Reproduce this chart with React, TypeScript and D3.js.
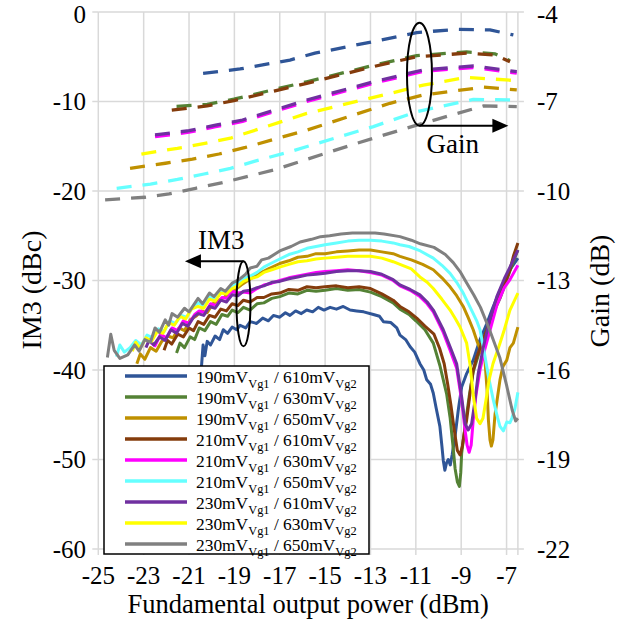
import React from 'react'
import * as d3 from 'd3'

// axis ticks
const xTicks = [-25, -23, -21, -19, -17, -15, -13, -11, -9, -7]
const im3Ticks = [0, -10, -20, -30, -40, -50, -60]
const gainTicks = [-4, -7, -10, -13, -16, -19, -22]

// bias points, in legend order
const vg1 = ['190', '190', '190', '210', '210', '210', '230', '230', '230']
const vg2 = ['610', '630', '650', '610', '630', '650', '610', '630', '650']
const colors = ['#2F5597', '#548235', '#BF9000', '#843C0C', '#FF00FF', '#66FFFF', '#7030A0', '#FFFF00', '#808080']

type Pt = [number, number]

// IM3 (dBc) vs Pout (dBm)
const im3_190_610: Pt[] = [[-20.45, -39.6], [-20.38, -37.2], [-20.3, -38.4], [-20.2, -36.8], [-20.05, -37.2], [-19.85, -36.2], [-19.65, -36.6], [-19.49, -35.5], [-19.3, -35.9], [-19.1, -35.2], [-18.9, -35.5], [-18.75, -35.0], [-18.5, -35.3], [-18.3, -34.6], [-18.02, -34.8], [-17.75, -34.2], [-17.5, -34.5], [-17.28, -33.9], [-17.0, -34.1], [-16.75, -33.6], [-16.55, -33.9], [-16.3, -33.4], [-16.05, -33.7], [-15.81, -33.3], [-15.55, -33.5], [-15.3, -33.0], [-15.05, -33.3], [-14.78, -33.0], [-14.5, -33.2], [-14.2, -32.9], [-13.9, -33.3], [-13.61, -33.4], [-13.3, -33.5], [-12.87, -33.8], [-12.6, -34.0], [-12.43, -34.6], [-12.1, -34.7], [-11.84, -35.3], [-11.7, -36.1], [-11.45, -36.6], [-11.25, -37.4], [-11.05, -38.0], [-10.82, -39.3], [-10.65, -40.0], [-10.52, -41.1], [-10.35, -41.6], [-10.23, -42.6], [-10.1, -44.3], [-9.94, -46.3], [-9.85, -48.5], [-9.79, -50.1], [-9.72, -51.2], [-9.65, -50.4], [-9.57, -50.0], [-9.48, -50.6], [-9.4, -49.5], [-9.27, -47.4], [-9.13, -44.5], [-8.98, -41.9], [-8.76, -40.4], [-8.47, -38.9], [-8.2, -36.8], [-7.87, -34.8], [-7.6, -33.0], [-7.29, -31.1], [-7.0, -29.6], [-6.85, -28.8], [-6.5, -27.5]]
const im3_190_630: Pt[] = [[-21.55, -38.1], [-21.4, -37.0], [-21.2, -37.5], [-20.95, -36.3], [-20.75, -36.6], [-20.55, -35.3], [-20.3, -35.6], [-20.05, -34.6], [-19.8, -34.9], [-19.55, -33.8], [-19.3, -34.0], [-19.1, -33.3], [-18.85, -33.6], [-18.6, -33.0], [-18.31, -33.3], [-18.0, -32.6], [-17.7, -32.5], [-17.35, -32.0], [-17.0, -31.8], [-16.6, -31.4], [-16.2, -31.5], [-15.8, -31.1], [-15.4, -31.2], [-15.0, -31.1], [-14.5, -30.9], [-14.0, -31.1], [-13.5, -31.0], [-13.0, -31.3], [-12.5, -31.8], [-12.0, -32.5], [-11.7, -33.2], [-11.3, -33.8], [-11.0, -34.5], [-10.6, -35.5], [-10.23, -37.0], [-9.94, -39.5], [-9.64, -42.7], [-9.49, -45.3], [-9.35, -48.8], [-9.27, -51.0], [-9.17, -52.5], [-9.08, -53.0], [-9.02, -51.5], [-8.98, -49.3], [-8.83, -46.3], [-8.65, -43.0], [-8.47, -40.2], [-8.2, -38.0], [-7.9, -35.8], [-7.6, -33.7], [-7.29, -32.0], [-7.0, -30.0], [-6.75, -28.2], [-6.5, -26.6]]
const im3_190_650: Pt[] = [[-23.3, -39.3], [-23.15, -38.2], [-22.95, -38.8], [-22.7, -37.5], [-22.45, -37.9], [-22.2, -36.8], [-21.95, -36.2], [-21.7, -36.4], [-21.45, -35.3], [-21.2, -35.6], [-20.95, -34.4], [-20.7, -34.0], [-20.45, -33.4], [-20.2, -33.6], [-19.95, -32.6], [-19.7, -32.2], [-19.45, -31.9], [-19.2, -31.2], [-18.95, -31.0], [-18.7, -30.5], [-18.4, -30.0], [-18.1, -29.5], [-17.8, -29.1], [-17.5, -28.7], [-17.0, -28.1], [-16.6, -27.8], [-16.2, -27.4], [-15.8, -27.3], [-15.4, -27.0], [-15.0, -27.0], [-14.5, -26.8], [-14.0, -26.7], [-13.5, -26.6], [-13.0, -26.6], [-12.5, -26.8], [-12.0, -27.0], [-11.7, -27.3], [-11.2, -27.7], [-10.7, -28.2], [-10.23, -28.8], [-9.85, -29.7], [-9.49, -30.7], [-9.2, -31.7], [-8.91, -32.9], [-8.7, -34.1], [-8.47, -35.5], [-8.3, -36.8], [-8.1, -38.1], [-7.95, -39.0], [-7.86, -42.2], [-7.8, -45.6], [-7.73, -47.8], [-7.67, -48.5], [-7.6, -47.8], [-7.51, -45.0], [-7.42, -43.4], [-7.29, -41.1], [-7.16, -39.6], [-6.99, -38.9], [-6.85, -37.5], [-6.7, -37.0], [-6.5, -35.2]]
const im3_210_610: Pt[] = [[-22.1, -37.8], [-21.95, -36.7], [-21.76, -37.1], [-21.5, -36.0], [-21.25, -36.3], [-21.0, -35.3], [-20.8, -35.6], [-20.6, -34.6], [-20.35, -34.9], [-20.1, -33.9], [-19.85, -34.1], [-19.6, -33.2], [-19.35, -33.4], [-19.1, -32.6], [-18.85, -32.8], [-18.6, -32.2], [-18.31, -32.4], [-18.0, -31.9], [-17.7, -31.9], [-17.35, -31.5], [-17.0, -31.4], [-16.6, -31.0], [-16.2, -31.1], [-15.8, -30.7], [-15.4, -30.8], [-15.0, -30.7], [-14.5, -30.6], [-14.0, -30.8], [-13.5, -30.7], [-13.0, -30.9], [-12.5, -31.5], [-12.0, -32.2], [-11.7, -32.9], [-11.3, -33.5], [-10.96, -34.2], [-10.6, -35.1], [-10.2, -36.0], [-9.95, -37.6], [-9.75, -39.3], [-9.6, -41.5], [-9.45, -44.0], [-9.3, -46.8], [-9.17, -49.0], [-9.05, -49.5], [-8.95, -48.5], [-8.85, -46.8], [-8.76, -45.6], [-8.61, -42.6], [-8.47, -40.0], [-8.32, -38.6], [-8.1, -37.0], [-7.87, -35.5], [-7.6, -33.5], [-7.29, -31.8], [-7.0, -29.8], [-6.85, -28.8], [-6.7, -27.3], [-6.5, -25.8]]
const im3_210_630: Pt[] = [[-22.7, -36.9], [-22.5, -37.3], [-22.25, -36.0], [-22.0, -36.4], [-21.75, -35.3], [-21.5, -35.6], [-21.25, -34.5], [-21.0, -34.8], [-20.75, -33.8], [-20.55, -33.4], [-20.3, -33.6], [-20.05, -32.6], [-19.8, -32.8], [-19.55, -31.9], [-19.3, -32.0], [-19.1, -31.2], [-18.85, -31.4], [-18.6, -31.3], [-18.31, -31.4], [-18.0, -30.9], [-17.7, -30.5], [-17.35, -30.3], [-17.0, -30.0], [-16.6, -29.7], [-16.2, -29.5], [-15.8, -29.3], [-15.4, -29.1], [-15.0, -29.0], [-14.5, -28.9], [-14.0, -28.8], [-13.5, -28.9], [-13.0, -29.1], [-12.5, -29.4], [-12.0, -30.0], [-11.7, -30.6], [-11.25, -31.1], [-10.82, -31.8], [-10.5, -32.6], [-10.23, -33.5], [-9.79, -35.8], [-9.49, -37.8], [-9.2, -39.8], [-8.98, -43.4], [-8.83, -46.7], [-8.74, -48.4], [-8.65, -49.2], [-8.56, -48.4], [-8.47, -45.6], [-8.35, -42.8], [-8.17, -40.0], [-7.95, -37.6], [-7.42, -32.7], [-7.1, -30.8], [-6.85, -29.9], [-6.5, -28.3]]
const im3_210_650: Pt[] = [[-24.2, -38.5], [-24.05, -37.2], [-23.85, -38.0], [-23.6, -37.5], [-23.35, -36.7], [-23.1, -37.2], [-22.85, -36.1], [-22.6, -36.4], [-22.35, -35.4], [-22.1, -35.7], [-21.85, -34.5], [-21.6, -34.8], [-21.35, -33.9], [-21.1, -34.1], [-20.85, -33.0], [-20.6, -32.5], [-20.35, -32.8], [-20.1, -31.8], [-19.85, -32.0], [-19.6, -31.1], [-19.35, -31.3], [-19.1, -30.5], [-18.85, -30.3], [-18.6, -29.8], [-18.3, -29.5], [-18.0, -29.1], [-17.7, -28.5], [-17.4, -28.1], [-17.0, -27.6], [-16.6, -27.1], [-16.2, -26.8], [-15.8, -26.4], [-15.4, -26.2], [-15.0, -26.0], [-14.5, -25.8], [-14.0, -25.6], [-13.5, -25.5], [-13.0, -25.5], [-12.5, -25.6], [-12.0, -25.8], [-11.7, -26.0], [-11.3, -26.2], [-10.8, -26.7], [-10.23, -27.5], [-9.85, -28.3], [-9.49, -29.2], [-9.2, -30.2], [-8.91, -31.4], [-8.7, -32.5], [-8.47, -33.7], [-8.3, -34.6], [-8.17, -35.5], [-7.95, -38.5], [-7.8, -40.7], [-7.58, -43.4], [-7.4, -45.3], [-7.29, -46.3], [-7.14, -46.8], [-6.99, -45.8], [-6.85, -45.9], [-6.77, -45.4], [-6.63, -44.3], [-6.5, -42.5]]
const im3_230_610: Pt[] = [[-22.9, -37.5], [-22.75, -36.6], [-22.55, -37.2], [-22.3, -36.3], [-22.05, -36.7], [-21.8, -35.5], [-21.55, -35.9], [-21.3, -34.8], [-21.05, -35.1], [-20.8, -34.1], [-20.6, -33.7], [-20.35, -33.9], [-20.1, -32.9], [-19.85, -33.1], [-19.6, -32.2], [-19.35, -32.4], [-19.1, -31.6], [-18.85, -31.7], [-18.6, -31.2], [-18.31, -31.1], [-18.0, -30.8], [-17.7, -30.6], [-17.35, -30.2], [-17.0, -30.1], [-16.6, -29.8], [-16.2, -29.6], [-15.8, -29.4], [-15.4, -29.3], [-15.0, -29.2], [-14.5, -29.0], [-14.0, -28.9], [-13.5, -28.9], [-13.0, -29.0], [-12.5, -29.3], [-12.0, -29.9], [-11.7, -30.5], [-11.25, -31.0], [-10.82, -31.6], [-10.5, -32.4], [-10.23, -33.3], [-9.79, -35.5], [-9.49, -37.4], [-9.2, -39.3], [-8.98, -43.0], [-8.83, -46.0], [-8.69, -46.7], [-8.54, -46.0], [-8.39, -43.4], [-8.25, -40.4], [-8.02, -37.4], [-7.75, -34.5], [-7.43, -31.8], [-7.1, -29.8], [-6.85, -28.5], [-6.5, -26.6]]
const im3_230_630: Pt[] = [[-23.5, -37.9], [-23.35, -36.9], [-23.15, -37.6], [-22.9, -36.4], [-22.65, -36.8], [-22.4, -35.7], [-22.15, -35.9], [-21.9, -34.7], [-21.65, -35.0], [-21.4, -34.0], [-21.15, -34.3], [-20.9, -33.2], [-20.6, -32.9], [-20.35, -33.1], [-20.1, -32.1], [-19.85, -32.3], [-19.6, -31.4], [-19.35, -31.5], [-19.1, -30.9], [-18.85, -30.6], [-18.6, -30.1], [-18.31, -29.8], [-18.0, -29.6], [-17.7, -29.1], [-17.35, -28.8], [-17.0, -28.5], [-16.6, -28.2], [-16.2, -27.9], [-15.8, -27.8], [-15.4, -27.6], [-15.0, -27.5], [-14.5, -27.4], [-14.0, -27.3], [-13.5, -27.3], [-13.0, -27.3], [-12.5, -27.5], [-12.0, -27.9], [-11.7, -28.2], [-11.2, -28.7], [-10.82, -29.6], [-10.5, -30.2], [-10.23, -30.9], [-9.85, -32.1], [-9.49, -33.3], [-9.25, -34.3], [-9.05, -35.2], [-8.76, -37.0], [-8.61, -39.4], [-8.47, -42.8], [-8.32, -45.4], [-8.17, -46.0], [-8.04, -45.4], [-7.91, -43.4], [-7.77, -41.1], [-7.6, -39.3], [-7.29, -37.0], [-7.1, -35.5], [-6.85, -33.3], [-6.5, -31.4]]
const im3_230_650: Pt[] = [[-24.6, -38.6], [-24.45, -36.0], [-24.3, -37.8], [-24.05, -38.7], [-23.7, -38.3], [-23.4, -37.2], [-23.2, -37.9], [-22.95, -36.6], [-22.7, -36.9], [-22.5, -35.3], [-22.3, -35.8], [-22.05, -34.4], [-21.9, -35.0], [-21.75, -33.7], [-21.5, -34.1], [-21.2, -33.1], [-21.0, -33.5], [-20.6, -32.0], [-20.4, -32.6], [-20.1, -31.4], [-19.9, -31.8], [-19.6, -30.9], [-19.4, -31.2], [-19.1, -30.3], [-18.8, -29.9], [-18.5, -29.3], [-18.3, -28.6], [-18.0, -28.4], [-17.8, -27.7], [-17.5, -27.5], [-17.0, -26.7], [-16.5, -26.2], [-16.1, -25.7], [-15.6, -25.4], [-15.2, -25.1], [-14.8, -25.0], [-14.3, -24.8], [-13.8, -24.7], [-13.3, -24.7], [-12.8, -24.7], [-12.4, -24.8], [-11.7, -25.1], [-11.2, -25.5], [-10.8, -25.9], [-10.2, -26.3], [-9.7, -27.1], [-9.35, -28.0], [-9.05, -29.0], [-8.75, -30.3], [-8.45, -31.6], [-8.15, -33.0], [-7.75, -35.5], [-7.3, -38.6], [-7.0, -41.7], [-6.75, -44.5], [-6.6, -45.7], [-6.5, -45.4]]

// Gain (dB) vs Pout (dBm)
const gain_190_610: Pt[] = [[-20.38, -6.06], [-18.75, -5.91], [-16.55, -5.61], [-15.45, -5.38], [-12.87, -4.99], [-10.96, -4.69], [-9.2, -4.58], [-7.73, -4.6], [-6.7, -4.77]]
const gain_190_630: Pt[] = [[-21.55, -7.16], [-20.2, -7.1], [-19.02, -6.92], [-15.81, -6.34], [-12.87, -5.79], [-10.96, -5.46], [-8.76, -5.34], [-7.51, -5.4], [-6.85, -5.63]]
const gain_190_650: Pt[] = [[-23.6, -9.24], [-22.04, -9.07], [-20.85, -8.93], [-19.68, -8.76], [-18.51, -8.54], [-15.81, -7.96], [-12.14, -7.06], [-10.67, -6.78], [-8.02, -6.52], [-6.55, -6.61]]
const gain_210_610: Pt[] = [[-21.76, -7.29], [-20.2, -7.15], [-19.02, -6.97], [-15.81, -6.39], [-12.87, -5.83], [-10.96, -5.5], [-8.76, -5.38], [-7.51, -5.44], [-6.85, -5.67]]
const gain_210_630: Pt[] = [[-22.5, -8.18], [-21.0, -8.03], [-19.83, -7.84], [-18.64, -7.67], [-15.81, -7.0], [-12.87, -6.39], [-10.67, -5.99], [-8.47, -5.86], [-6.55, -6.05]]
const gain_210_650: Pt[] = [[-24.19, -9.91], [-22.7, -9.77], [-21.51, -9.61], [-20.34, -9.43], [-19.17, -9.24], [-18.09, -9.0], [-16.55, -8.68], [-12.87, -7.84], [-10.96, -7.34], [-8.47, -6.93], [-6.55, -6.95]]
const gain_230_610: Pt[] = [[-22.5, -8.12], [-21.0, -7.98], [-19.83, -7.79], [-18.64, -7.62], [-15.81, -6.95], [-12.87, -6.34], [-10.67, -5.94], [-8.47, -5.81], [-6.55, -6.0]]
const gain_230_630: Pt[] = [[-23.1, -8.76], [-21.51, -8.57], [-20.3, -8.4], [-19.17, -8.23], [-15.81, -7.4], [-12.14, -6.73], [-10.67, -6.45], [-8.76, -6.19], [-6.55, -6.3]]
const gain_230_650: Pt[] = [[-24.7, -10.3], [-22.94, -10.21], [-21.88, -10.1], [-20.71, -9.91], [-19.52, -9.72], [-18.36, -9.5], [-17.28, -9.3], [-13.6, -8.4], [-10.96, -7.79], [-8.02, -7.15], [-6.55, -7.17]]

const im3Data = [im3_190_610, im3_190_630, im3_190_650, im3_210_610, im3_210_630, im3_210_650, im3_230_610, im3_230_630, im3_230_650]
const gainData = [gain_190_610, gain_190_630, gain_190_650, gain_210_610, gain_210_630, gain_210_650, gain_230_610, gain_230_630, gain_230_650]

const series = vg1.map((v, i) => ({ vg1: v, vg2: vg2[i], color: colors[i], im3: im3Data[i], gain: gainData[i] }))

const W = 617
const H = 619
const FONT = 'Liberation Serif, Times New Roman, DejaVu Serif, serif'
const GRID = '#d9d9d9'
const txt = { fontFamily: FONT }

export default function App() {
  const x = d3.scaleLinear().domain([-25, -6.5]).range([98.3, 517.9])
  const yL = d3.scaleLinear().domain([-60, 0]).range([549, 12])
  const yR = d3.scaleLinear().domain([-22, -4]).range([549, 12])
  const [x0, x1] = x.range()
  const [yb, yt] = yL.range()

  const im3Line = d3.line<Pt>().x(d => x(d[0])).y(d => yL(d[1]))
  const gainLine = d3.line<Pt>().x(d => x(d[0])).y(d => yR(d[1]))

  // annotation anchors
  const gE = { cx: x(-10.84), cy: yL(-6.95), rx: 12.5, ry: 51.5 }
  const iE = { cx: x(-18.6), cy: yL(-32.6), rx: 7, ry: 42.5 }
  const gArrowY = gE.cy + gE.ry
  const gTip = x(-6.92)
  const iArrowY = iE.cy - iE.ry
  const iTip = x(-21.18)

  const lg = { x: 104, y: 366, w: 265, h: 188, row: 21 }
  const labelY = (v: number) => Math.max(v, 14.5)

  return <svg width={W} height={H} style={{ position: 'absolute', left: 0, top: 0, background: 'white' }}>
    {/* grid */}
    {im3Ticks.map(t => <line key={'h' + t} x1={x0} x2={x1} y1={yL(t)} y2={yL(t)} stroke={GRID} strokeWidth={1.5} />)}
    {xTicks.map(t => <line key={'v' + t} x1={x(t)} x2={x(t)} y1={yt} y2={yb} stroke={GRID} strokeWidth={1.5} />)}
    <line x1={x1} x2={x1} y1={yt} y2={yb} stroke={GRID} strokeWidth={1.5} />
    {/* tick marks */}
    {im3Ticks.map(t => <line key={'lt' + t} x1={x0 - 6} x2={x0} y1={yL(t)} y2={yL(t)} stroke={GRID} strokeWidth={1.5} />)}
    {gainTicks.map(t => <line key={'rt' + t} x1={x1} x2={x1 + 6} y1={yR(t)} y2={yR(t)} stroke={GRID} strokeWidth={1.5} />)}
    {xTicks.concat([-6.5]).map(t => <line key={'bt' + t} x1={x(t)} x2={x(t)} y1={yb} y2={yb + 6} stroke={GRID} strokeWidth={1.5} />)}

    {/* gain, dashed */}
    {series.map((s, i) => <path key={'g' + i} d={gainLine(s.gain) || ''} fill="none" stroke={s.color}
                                strokeWidth={3.3} strokeDasharray="15 11" />)}
    {/* IM3, solid */}
    {series.map((s, i) => <path key={'i' + i} d={im3Line(s.im3) || ''} fill="none" stroke={s.color}
                                strokeWidth={3} strokeLinejoin="round" />)}

    {/* tick labels */}
    {im3Ticks.map(t => <text key={'ll' + t} style={txt} x={86} y={labelY(yL(t))} dy="0.35em" textAnchor="end" fontSize={25}>{t}</text>)}
    {gainTicks.map(t => <text key={'rl' + t} style={txt} x={537} y={labelY(yR(t))} dy="0.35em" fontSize={25}>{t}</text>)}
    {xTicks.map(t => <text key={'bl' + t} style={txt} x={x(t)} y={584} textAnchor="middle" fontSize={25}>{t}</text>)}

    {/* axis titles */}
    <text style={txt} x={(x0 + x1) / 2} y={613} textAnchor="middle" fontSize={26.5}>Fundamental output power (dBm)</text>
    <text style={txt} transform={`translate(41,${290}) rotate(-90)`} textAnchor="middle" fontSize={28}>IM3 (dBc)</text>
    <text style={txt} transform={`translate(609,${291}) rotate(-90)`} textAnchor="middle" fontSize={28}>Gain (dB)</text>

    {/* annotations */}
    <ellipse {...gE} fill="none" stroke="black" strokeWidth={2} />
    <line x1={gE.cx} x2={gTip - 14} y1={gArrowY} y2={gArrowY} stroke="black" strokeWidth={2} />
    <polygon points={`${gTip},${gArrowY} ${gTip - 16},${gArrowY - 7} ${gTip - 16},${gArrowY + 7}`} fill="black" />
    <text style={txt} x={gE.cx + 7} y={gArrowY + 27} fontSize={27}>Gain</text>

    <ellipse {...iE} fill="none" stroke="black" strokeWidth={2} />
    <line x1={iE.cx} x2={iTip + 14} y1={iArrowY} y2={iArrowY} stroke="black" strokeWidth={2} />
    <polygon points={`${iTip},${iArrowY} ${iTip + 16},${iArrowY - 7} ${iTip + 16},${iArrowY + 7}`} fill="black" />
    <text style={txt} x={x(-20.6)} y={iArrowY - 12.5} fontSize={27}>IM3</text>

    {/* legend */}
    <rect x={lg.x} y={lg.y} width={lg.w} height={lg.h} fill="white" stroke="black" strokeWidth={1.5} />
    {series.map((s, i) => {
      const cy = lg.y + 10 + i * lg.row
      return <g key={'lg' + i}>
        <line x1={125} x2={187} y1={cy} y2={cy} stroke={s.color} strokeWidth={3.5} />
        <text style={txt} x={196} y={cy + 7} fontSize={17.4}>
          {s.vg1}mV<tspan fontSize={12.4} dy={5}>Vg1</tspan>
          <tspan dy={-5}>{` / ${s.vg2}mV`}</tspan><tspan fontSize={12.4} dy={5}>Vg2</tspan>
        </text>
      </g>
    })}
  </svg>
}
